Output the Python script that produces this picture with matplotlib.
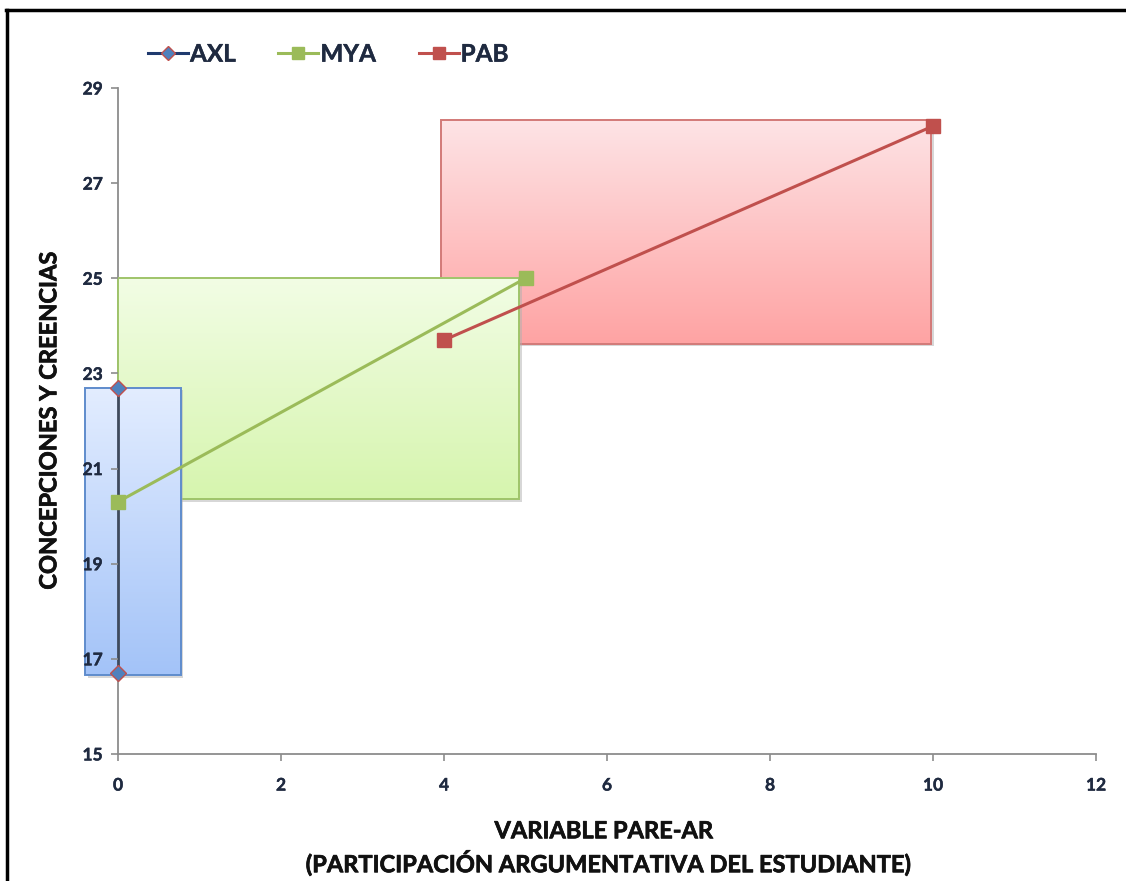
import numpy as np
import matplotlib
matplotlib.use("Agg")
import matplotlib.pyplot as plt
from matplotlib.patches import Rectangle
from matplotlib.lines import Line2D
import matplotlib.transforms as mtransforms
import matplotlib.patheffects as pe

plt.rcParams['font.family'] = ['Lato', 'DejaVu Sans']

# Series: participation (x) vs conceptions & beliefs (y)
axl_x = [0, 0]
axl_y = [22.7, 16.7]
mya_x = [0, 5]
mya_y = [20.3, 25.0]
pab_x = [4, 10]
pab_y = [23.7, 28.2]

# Highlight boxes: (x0, x1, y0, y1)
box_axl = (-0.40, 0.77, 16.65, 22.7)
box_mya = (0.0, 4.92, 20.35, 25.0)
box_pab = (3.96, 9.98, 23.62, 28.33)

x_ticks = [0, 2, 4, 6, 8, 10, 12]
y_ticks = [15, 17, 19, 21, 23, 25, 27, 29]

fig = plt.figure(figsize=(11.26, 8.81), dpi=100)
ax = fig.add_axes([0.1048, 0.1442, 0.8686, 0.7559])

tick_color = '#1f2a40'
axis_gray = '#8c8c8c'


def heavy(color, w):
    # thicken glyph outlines slightly
    return [pe.withStroke(linewidth=w, foreground=color)]


def gradient_box(ax, box, top_col, bot_col, edge, z):
    x0, x1, y0, y1 = box
    top = np.array(matplotlib.colors.to_rgb(top_col))
    bot = np.array(matplotlib.colors.to_rgb(bot_col))
    t = np.linspace(0, 1, 256)[:, None]
    img = (top * (1 - t) + bot * t)[:, None, :]
    # soft drop shadow
    shadow_tr = mtransforms.offset_copy(ax.transData, fig=fig, x=2.5, y=-2.5, units='dots')
    sh = Rectangle((x0, y0), x1 - x0, y1 - y0, transform=shadow_tr,
                   facecolor='#b0b0b0', edgecolor='none', alpha=0.5, zorder=z - 0.2,
                   clip_on=False)
    ax.add_patch(sh)
    im = ax.imshow(img, extent=(x0, x1, y0, y1), origin='upper', aspect='auto',
                   zorder=z, interpolation='bilinear')
    im.set_clip_on(False)
    r = Rectangle((x0, y0), x1 - x0, y1 - y0, facecolor='none', edgecolor=edge,
                  linewidth=1.4, zorder=z + 0.1, clip_on=False)
    ax.add_patch(r)


gradient_box(ax, box_pab, '#fde4e6', '#ffa3a3', '#d27a78', 1)
gradient_box(ax, box_mya, '#f2fde5', '#d6f5ae', '#9fc46a', 2)
gradient_box(ax, box_axl, '#e3edff', '#a3c3f8', '#5f8ccc', 3)

ax.plot(axl_x, axl_y, color='#3f4a5c', linewidth=2.0, marker='D', markersize=8,
        markerfacecolor='#4f81bd', markeredgecolor='#c0504d', markeredgewidth=1.0,
        zorder=6, clip_on=False, label='AXL')
ax.plot(mya_x, mya_y, color='#9bbb59', linewidth=2.2, marker='s', markersize=10,
        markerfacecolor='#9bbb59', markeredgecolor='#9bbb59', zorder=7, clip_on=False,
        label='MYA')
ax.plot(pab_x, pab_y, color='#c0504d', linewidth=2.2, marker='s', markersize=10,
        markerfacecolor='#c0504d', markeredgecolor='#c0504d', zorder=8, clip_on=False,
        label='PAB')

ax.set_xlim(0, 12)
ax.set_ylim(15, 29)
ax.set_xticks(x_ticks)
ax.set_yticks(y_ticks)
ax.set_xticklabels([str(v) for v in x_ticks])
ax.set_yticklabels([str(v) for v in y_ticks])

for side in ['top', 'right']:
    ax.spines[side].set_visible(False)
for side in ['left', 'bottom']:
    ax.spines[side].set_color(axis_gray)
    ax.spines[side].set_linewidth(1.3)
    ax.spines[side].set_zorder(0.5)
ax.tick_params(axis='both', direction='out', length=5, width=1.2, color=axis_gray,
               labelcolor=tick_color, labelsize=12.5)
ax.tick_params(axis='x', pad=12)
ax.tick_params(axis='y', pad=6)
for lab in ax.get_xticklabels() + ax.get_yticklabels():
    lab.set_fontweight('bold')
    lab.set_path_effects(heavy(tick_color, 0.3))
ax.yaxis.set_zorder(10)
ax.xaxis.set_zorder(10)
ax.set_facecolor('none')

label_color = '#111111'
ax.set_ylabel('CONCEPCIONES Y CREENCIAS', fontsize=17, fontweight='bold',
              color=label_color, path_effects=heavy(label_color, 0.5))
ax.yaxis.set_label_coords(-0.059, 0.5)
fig.text(0.536, 0.057, 'VARIABLE PARE-AR', ha='center', va='center',
         fontsize=17, fontweight='bold', color=label_color,
         path_effects=heavy(label_color, 0.5))
fig.text(0.540, 0.021, '(PARTICIPACIÓN ARGUMENTATIVA DEL ESTUDIANTE)', ha='center',
         va='center', fontsize=17, fontweight='bold', color=label_color,
         path_effects=heavy(label_color, 0.5))

handles = [
    Line2D([], [], color='#1f3a6e', linewidth=2.2, marker='D', markersize=7,
           markerfacecolor='#4f81bd', markeredgecolor='#c0504d'),
    Line2D([], [], color='#9bbb59', linewidth=2.2, marker='s', markersize=9,
           markerfacecolor='#9bbb59', markeredgecolor='#9bbb59'),
    Line2D([], [], color='#c0504d', linewidth=2.2, marker='s', markersize=9,
           markerfacecolor='#c0504d', markeredgecolor='#c0504d'),
]
leg = fig.legend(handles, ['AXL', 'MYA', 'PAB'], loc='center left',
                 bbox_to_anchor=(0.112, 0.9385), ncol=3, frameon=False,
                 handlelength=1.65, handletextpad=0.08, columnspacing=1.75,
                 prop={'weight': 'bold', 'size': 17.5})
for t in leg.get_texts():
    t.set_color('#1f2a40')
    t.set_path_effects(heavy('#1f2a40', 0.3))

# frame around the figure (top and left edges)
fig.add_artist(Line2D([0.005, 1.0], [0.9885, 0.9885], transform=fig.transFigure,
                      color='black', linewidth=2.5))
fig.add_artist(Line2D([0.0065, 0.0065], [0.0, 0.9885], transform=fig.transFigure,
                      color='black', linewidth=2.5))

fig.savefig('out.png', dpi=100)
